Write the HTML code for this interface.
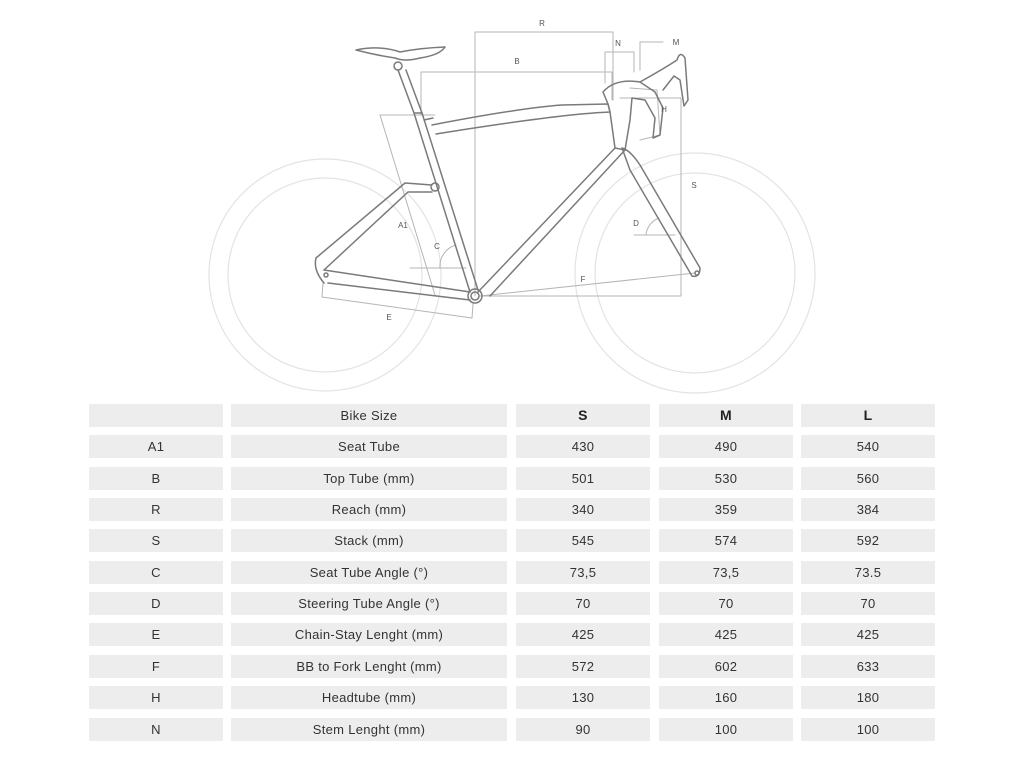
<!DOCTYPE html>
<html><head><meta charset="utf-8"><style>
body{margin:0;width:1024px;height:768px;background:#fff;position:relative;overflow:hidden;font-family:"Liberation Sans",sans-serif;}
.c{position:absolute;height:23px;background:#ededed;color:#333;font-size:13px;line-height:23px;text-align:center;letter-spacing:0.3px;}
.b{font-weight:bold;font-size:14px;color:#222;}
svg{position:absolute;left:0;top:0}
</style></head><body>
<svg width="1024" height="400" viewBox="0 0 1024 400" fill="none" stroke-linecap="round" stroke-linejoin="round">
<g stroke="#e3e3e3" stroke-width="1.2">
<circle cx="325" cy="275" r="116"/><circle cx="325" cy="275" r="97"/>
<circle cx="695" cy="273" r="120"/><circle cx="695" cy="273" r="100"/>
</g>
<g stroke="#b5b5b5" stroke-width="1">
<polyline points="475,296 475,32 613,32 613,100"/>
<polyline points="421,115 421,72 612,72 612,100"/>
<polyline points="605,83 605,52 634,52 634,72"/>
<polyline points="640,70 640,42 663,42"/>
<polyline points="620,98 681,98 681,296 480,296"/>
<polyline points="630,88 657,90 660,135 640,140"/>
<polyline points="380,115 435,115"/>
<line x1="380" y1="115" x2="435" y2="295"/>
<line x1="410" y1="268" x2="466" y2="268"/>
<path d="M440 268 A22 22 0 0 1 456 245"/>
<line x1="634" y1="235" x2="675" y2="235"/>
<path d="M646 235 A20 20 0 0 1 659 218"/>
<polyline points="323,283 322,297 472,318 473,304"/>
<line x1="480" y1="296" x2="695" y2="273"/>
</g>
<g stroke="#7a7a7a" stroke-width="1.5">
<path d="M356 50 Q380 45 400 52 Q420 48 445 47 Q440 55 420 58 Q405 62 395 58 Q375 55 356 50Z"/>
<circle cx="398" cy="66" r="4"/>
<path d="M398 70 L414 113 L422 113 L406 70"/>
<path d="M414 113 L470 292 M422 113 L478 290 M424 120 L433 118"/>
<path d="M432 125 Q520 108 562 105 L608 104 L610 112 Q560 114 436 134"/>
<path d="M608 104 L603 92 Q615 78 640 82 L655 92 L663 108 L660 135 L653 138 L655 118 L645 100 L632 98 L630 120 L625 150 L615 148 L610 112Z"/>
<path d="M640 82 Q665 68 677 60 Q680 50 685 58 L688 100 L684 106 L680 80 L674 76 L663 90"/>
<path d="M615 148 L478 292 M625 150 L490 296"/>
<path d="M622 148 Q630 150 640 165 L700 268 Q700 278 692 276 L630 170 Z"/>
<circle cx="697" cy="273" r="2"/>
<circle cx="475" cy="296" r="7"/><circle cx="475" cy="296" r="4"/>
<path d="M324 270 L470 292 M328 283 L470 300"/>
<path d="M316 258 Q313 270 324 283 M316 258 L405 183 L432 185 M324 270 L408 192 L432 192"/>
<circle cx="326" cy="275" r="2"/>
<circle cx="435" cy="187" r="4"/>
</g>
<g font-family="Liberation Sans,sans-serif" font-size="8" fill="#555" text-anchor="middle">
<text x="542" y="26">R</text><text x="517" y="64">B</text><text x="618" y="46">N</text>
<text x="676" y="45">M</text><text x="664" y="112">H</text><text x="694" y="188">S</text>
<text x="636" y="226">D</text><text x="583" y="282">F</text><text x="403" y="228">A1</text>
<text x="437" y="249">C</text><text x="389" y="320">E</text>
</g>
</svg>
<div id="t"></div>
<script>
var rows=[["","Bike Size","S","M","L"],["A1","Seat Tube","430","490","540"],["B","Top Tube (mm)","501","530","560"],["R","Reach (mm)","340","359","384"],["S","Stack (mm)","545","574","592"],["C","Seat Tube Angle (°)","73,5","73,5","73.5"],["D","Steering Tube Angle (°)","70","70","70"],["E","Chain-Stay Lenght (mm)","425","425","425"],["F","BB to Fork Lenght (mm)","572","602","633"],["H","Headtube (mm)","130","160","180"],["N","Stem Lenght (mm)","90","100","100"]];
var cols=[[89,134],[231,276],[516,134],[659,134],[801,134]];
var h="";
rows.forEach(function(r,i){var y=Math.round(404+i*31.35);r.forEach(function(v,j){h+='<div class="c'+(i==0&&j>1?' b':'')+'" style="left:'+cols[j][0]+'px;top:'+y+'px;width:'+cols[j][1]+'px">'+v+'</div>';});});
document.getElementById("t").innerHTML=h;
</script>
</body></html>
